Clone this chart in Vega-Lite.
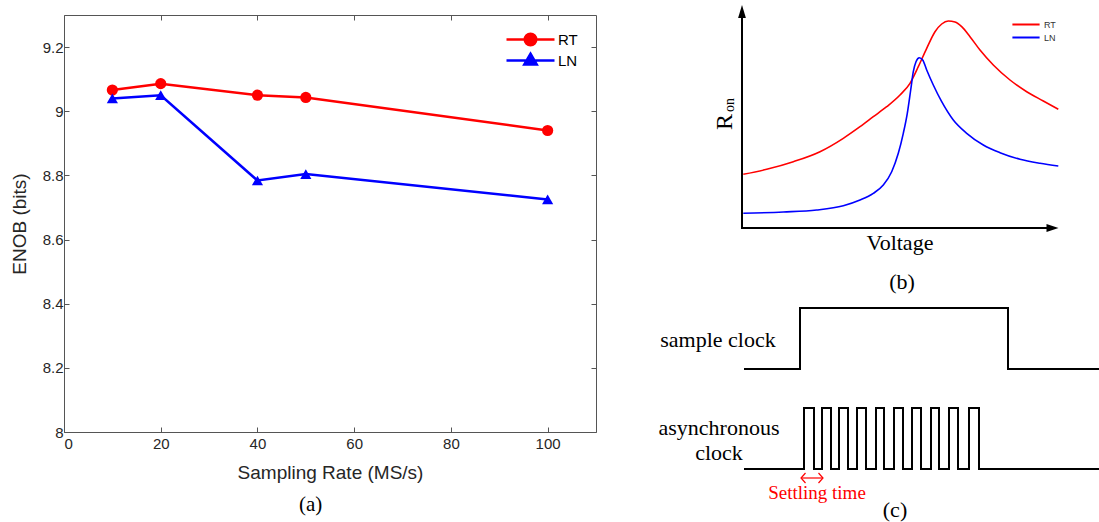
{
  "$schema": "https://vega.github.io/schema/vega-lite/v6.json",
  "background": "white",
  "padding": {"left": 10, "top": 5, "right": 0, "bottom": 0},
  "config": {"view": {"stroke": null}},
  "bounds": "flush",
  "spacing": 24,
  "resolve": {"scale": {"color": "independent"}, "legend": {"color": "independent"}},
  "hconcat": [
    {
      "width": 532,
      "height": 417,
      "layer": [
        {
          "data": {"values": [
            {"series": "RT", "rate": 10, "enob": 9.066},
            {"series": "RT", "rate": 20, "enob": 9.086},
            {"series": "RT", "rate": 40, "enob": 9.050},
            {"series": "RT", "rate": 50, "enob": 9.043},
            {"series": "RT", "rate": 100, "enob": 8.940},
            {"series": "LN", "rate": 10, "enob": 9.040},
            {"series": "LN", "rate": 20, "enob": 9.050},
            {"series": "LN", "rate": 40, "enob": 8.784},
            {"series": "LN", "rate": 50, "enob": 8.804},
            {"series": "LN", "rate": 100, "enob": 8.725}
          ]},
          "layer": [
            {
              "mark": {"type": "line", "strokeWidth": 2.5},
              "encoding": {
                "x": {"field": "rate", "type": "quantitative", "scale": {"domain": [0, 110], "nice": false},
                  "axis": {"orient": "bottom", "values": [0, 20, 40, 60, 80, 100], "title": "Sampling Rate (MS/s)", "grid": false,
                    "tickSize": -5, "tickColor": "#555", "domainColor": "#555", "labelPadding": 9,
                    "labelFont": "Liberation Sans", "labelFontSize": 15, "labelColor": "#262626",
                    "titleFont": "Liberation Sans", "titleFontSize": 19, "titleFontWeight": "normal", "titleColor": "#262626", "titlePadding": 12}},
                "y": {"field": "enob", "type": "quantitative", "scale": {"domain": [8, 9.3], "nice": false, "zero": false},
                  "axis": {"orient": "left", "values": [8, 8.2, 8.4, 8.6, 8.8, 9, 9.2], "format": "~g", "title": "ENOB (bits)", "grid": false,
                    "tickSize": -5, "tickColor": "#555", "domainColor": "#555", "labelPadding": 6,
                    "labelFont": "Liberation Sans", "labelFontSize": 15, "labelColor": "#262626",
                    "titleFont": "Liberation Sans", "titleFontSize": 19, "titleFontWeight": "normal", "titleColor": "#262626", "titlePadding": 13}},
                "color": {"field": "series", "type": "nominal", "scale": {"domain": ["RT", "LN"], "range": ["#ff0000", "#0000ff"]},
                  "legend": {"orient": "none", "legendX": 457, "legendY": 15, "title": null, "padding": 0,
                    "symbolType": "circle", "symbolSize": 256, "symbolStrokeWidth": 2.5, "labelOffset": 18, "rowPadding": -4,
                    "labelFont": "Liberation Sans", "labelFontSize": 15, "labelColor": "#000000",
                    "encode": {"symbols": {"update": {
                      "shape": {"signal": "datum.value === 'RT' ? 'M-3,0L3,0M0.72,0A0.72,0.72,0,1,1,-0.72,0A0.72,0.72,0,1,1,0.72,0Z' : 'M-3,0L3,0M0,-0.85L0.78,0.5L-0.78,0.5Z'"},
                      "fill": {"signal": "datum.value === 'RT' ? '#ff0000' : '#0000ff'"},
                      "stroke": {"signal": "datum.value === 'RT' ? '#ff0000' : '#0000ff'"},
                      "opacity": {"value": 1}
                    }}}}}
              }
            },
            {
              "mark": {"type": "point", "filled": true, "size": 125, "opacity": 1},
              "encoding": {
                "x": {"field": "rate", "type": "quantitative", "scale": {"domain": [0, 110], "nice": false},
                  "axis": {"orient": "top", "values": [0, 20, 40, 60, 80, 100], "labels": false, "title": null, "grid": false,
                    "tickSize": -5, "tickColor": "#555", "domainColor": "#555"}},
                "y": {"field": "enob", "type": "quantitative", "scale": {"domain": [8, 9.3], "nice": false, "zero": false},
                  "axis": {"orient": "right", "values": [8, 8.2, 8.4, 8.6, 8.8, 9, 9.2], "labels": false, "title": null, "grid": false,
                    "tickSize": -5, "tickColor": "#555", "domainColor": "#555"}},
                "color": {"field": "series", "type": "nominal", "scale": {"domain": ["RT", "LN"], "range": ["#ff0000", "#0000ff"]}, "legend": null},
                "shape": {"field": "series", "type": "nominal", "scale": {"domain": ["RT", "LN"], "range": ["circle", "triangle-up"]}, "legend": null}
              }
            }
          ]
        },
        {
          "data": {"values": [{}]},
          "mark": {"type": "text", "text": "(a)", "font": "Liberation Serif", "fontSize": 21, "color": "#000000"},
          "encoding": {
            "x": {"datum": 51, "scale": {"domain": [0, 110], "nice": false}, "axis": null},
            "y": {"datum": 7.772, "scale": {"domain": [8, 9.3], "nice": false, "zero": false}, "axis": null}
          }
        }
      ],
      "resolve": {"axis": {"x": "independent", "y": "independent"}}
    },
    {
      "bounds": "flush",
      "spacing": 0,
      "resolve": {"scale": {"color": "independent"}},
      "vconcat": [
        {
          "width": 479,
          "height": 280,
          "layer": [
            {
              "data": {"values": [
                {"curve": "RT", "v": 1.3, "r": 53.7}, {"curve": "RT", "v": 24.7, "r": 58.7}, {"curve": "RT", "v": 51.3, "r": 66.3},
                {"curve": "RT", "v": 78, "r": 76.3}, {"curve": "RT", "v": 101.3, "r": 89.7}, {"curve": "RT", "v": 118, "r": 101.3},
                {"curve": "RT", "v": 131.3, "r": 111.3}, {"curve": "RT", "v": 144.7, "r": 121.3}, {"curve": "RT", "v": 158, "r": 133},
                {"curve": "RT", "v": 168, "r": 144.7}, {"curve": "RT", "v": 176.3, "r": 161.3}, {"curve": "RT", "v": 184.7, "r": 179.7},
                {"curve": "RT", "v": 193, "r": 196.3}, {"curve": "RT", "v": 199.7, "r": 204}, {"curve": "RT", "v": 206.3, "r": 207},
                {"curve": "RT", "v": 213, "r": 206}, {"curve": "RT", "v": 219.7, "r": 201.3}, {"curve": "RT", "v": 228, "r": 191.3},
                {"curve": "RT", "v": 238, "r": 178}, {"curve": "RT", "v": 251.3, "r": 163}, {"curve": "RT", "v": 268, "r": 148},
                {"curve": "RT", "v": 284.7, "r": 136.3}, {"curve": "RT", "v": 301.3, "r": 127}, {"curve": "RT", "v": 316.3, "r": 118.7},
                {"curve": "LN", "v": 1.3, "r": 14.7}, {"curve": "LN", "v": 41.3, "r": 16}, {"curve": "LN", "v": 74.7, "r": 18},
                {"curve": "LN", "v": 101.3, "r": 22.3}, {"curve": "LN", "v": 118, "r": 28}, {"curve": "LN", "v": 131.3, "r": 34.7},
                {"curve": "LN", "v": 141.3, "r": 43}, {"curve": "LN", "v": 149.7, "r": 56.3}, {"curve": "LN", "v": 156.3, "r": 74.7},
                {"curve": "LN", "v": 161.3, "r": 94.7}, {"curve": "LN", "v": 165.3, "r": 114.7}, {"curve": "LN", "v": 168.7, "r": 138},
                {"curve": "LN", "v": 171.3, "r": 156.3}, {"curve": "LN", "v": 174, "r": 166.3}, {"curve": "LN", "v": 177.3, "r": 170.3},
                {"curve": "LN", "v": 180.7, "r": 168}, {"curve": "LN", "v": 184.7, "r": 158}, {"curve": "LN", "v": 191.3, "r": 143},
                {"curve": "LN", "v": 199.7, "r": 126.3}, {"curve": "LN", "v": 211.3, "r": 108}, {"curve": "LN", "v": 224.7, "r": 94.7},
                {"curve": "LN", "v": 241.3, "r": 83}, {"curve": "LN", "v": 258, "r": 75.3}, {"curve": "LN", "v": 278, "r": 68.7},
                {"curve": "LN", "v": 298, "r": 64.7}, {"curve": "LN", "v": 316.3, "r": 62}
              ]},
              "mark": {"type": "line", "strokeWidth": 1.6, "interpolate": "monotone"},
              "encoding": {
                "x": {"field": "v", "type": "quantitative", "scale": {"domain": [-122, 357], "nice": false, "zero": false}, "axis": null},
                "y": {"field": "r", "type": "quantitative", "scale": {"domain": [-67, 213], "nice": false, "zero": false}, "axis": null},
                "color": {"field": "curve", "type": "nominal", "scale": {"domain": ["RT", "LN"], "range": ["#ff0000", "#0000ff"]},
                  "legend": {"orient": "none", "legendX": 401, "legendY": 4.5, "title": null, "padding": 0,
                    "symbolType": "M-3.4,0L3.4,0", "symbolSize": 64, "symbolStrokeWidth": 2, "labelOffset": 13, "rowPadding": 3,
                    "labelFont": "Liberation Sans", "labelFontSize": 9, "labelColor": "#333333"}}
              }
            },
            {
              "data": {"values": [{}]},
              "mark": {"type": "rule", "color": "#000000", "strokeWidth": 2, "strokeCap": "square"},
              "encoding": {"x": {"datum": 0, "axis": null}, "y": {"datum": 0, "axis": null}, "y2": {"datum": 211}}
            },
            {
              "data": {"values": [{}]},
              "mark": {"type": "rule", "color": "#000000", "strokeWidth": 2, "strokeCap": "square"},
              "encoding": {"x": {"datum": 0, "axis": null}, "x2": {"datum": 305}, "y": {"datum": 0, "axis": null}}
            },
            {
              "data": {"values": [{}]},
              "mark": {"type": "point", "filled": true, "color": "#000000", "opacity": 1, "size": 169, "shape": "M0,-1L0.6,1L-0.6,1Z"},
              "encoding": {"x": {"datum": 0, "axis": null}, "y": {"datum": 216.5, "axis": null}}
            },
            {
              "data": {"values": [{}]},
              "mark": {"type": "point", "filled": true, "color": "#000000", "opacity": 1, "size": 144, "shape": "M1,0L-1,0.65L-1,-0.65Z"},
              "encoding": {"x": {"datum": 310.5, "axis": null}, "y": {"datum": 0, "axis": null}}
            },
            {
              "data": {"values": [{}]},
              "mark": {"type": "text", "text": "Voltage", "font": "Liberation Serif", "fontSize": 22, "color": "#000000"},
              "encoding": {"x": {"datum": 158, "axis": null}, "y": {"datum": -15, "axis": null}}
            },
            {
              "data": {"values": [{}]},
              "mark": {"type": "text", "text": "(b)", "font": "Liberation Serif", "fontSize": 22, "color": "#000000"},
              "encoding": {"x": {"datum": 160, "axis": null}, "y": {"datum": -54, "axis": null}}
            },
            {
              "data": {"values": [{}]},
              "mark": {"type": "text", "text": "R", "font": "Liberation Serif", "fontSize": 24, "angle": 270, "color": "#000000"},
              "encoding": {"x": {"datum": -17, "axis": null}, "y": {"datum": 106, "axis": null}}
            },
            {
              "data": {"values": [{}]},
              "mark": {"type": "text", "text": "on", "font": "Liberation Serif", "fontSize": 14, "angle": 270, "color": "#000000"},
              "encoding": {"x": {"datum": -12, "axis": null}, "y": {"datum": 123, "axis": null}}
            }
          ]
        },
        {
          "width": 479,
          "height": 227,
          "layer": [
            {
              "data": {"values": [
                {"signal": "sample", "i": 0, "t": 0, "lvl": 100}, {"signal": "sample", "i": 1, "t": 56, "lvl": 100},
                {"signal": "sample", "i": 2, "t": 56, "lvl": 161}, {"signal": "sample", "i": 3, "t": 264, "lvl": 161},
                {"signal": "sample", "i": 4, "t": 264, "lvl": 100}, {"signal": "sample", "i": 5, "t": 355, "lvl": 100},
                {"signal": "async", "i": 0, "t": 0, "lvl": 0},
                {"signal": "async", "i": 1, "t": 60, "lvl": 0}, {"signal": "async", "i": 2, "t": 60, "lvl": 61}, {"signal": "async", "i": 3, "t": 70, "lvl": 61}, {"signal": "async", "i": 4, "t": 70, "lvl": 0},
                {"signal": "async", "i": 5, "t": 78, "lvl": 0}, {"signal": "async", "i": 6, "t": 78, "lvl": 61}, {"signal": "async", "i": 7, "t": 87, "lvl": 61}, {"signal": "async", "i": 8, "t": 87, "lvl": 0},
                {"signal": "async", "i": 9, "t": 95, "lvl": 0}, {"signal": "async", "i": 10, "t": 95, "lvl": 61}, {"signal": "async", "i": 11, "t": 104, "lvl": 61}, {"signal": "async", "i": 12, "t": 104, "lvl": 0},
                {"signal": "async", "i": 13, "t": 113, "lvl": 0}, {"signal": "async", "i": 14, "t": 113, "lvl": 61}, {"signal": "async", "i": 15, "t": 122, "lvl": 61}, {"signal": "async", "i": 16, "t": 122, "lvl": 0},
                {"signal": "async", "i": 17, "t": 132, "lvl": 0}, {"signal": "async", "i": 18, "t": 132, "lvl": 61}, {"signal": "async", "i": 19, "t": 140, "lvl": 61}, {"signal": "async", "i": 20, "t": 140, "lvl": 0},
                {"signal": "async", "i": 21, "t": 150, "lvl": 0}, {"signal": "async", "i": 22, "t": 150, "lvl": 61}, {"signal": "async", "i": 23, "t": 159, "lvl": 61}, {"signal": "async", "i": 24, "t": 159, "lvl": 0},
                {"signal": "async", "i": 25, "t": 168, "lvl": 0}, {"signal": "async", "i": 26, "t": 168, "lvl": 61}, {"signal": "async", "i": 27, "t": 177, "lvl": 61}, {"signal": "async", "i": 28, "t": 177, "lvl": 0},
                {"signal": "async", "i": 29, "t": 187, "lvl": 0}, {"signal": "async", "i": 30, "t": 187, "lvl": 61}, {"signal": "async", "i": 31, "t": 195, "lvl": 61}, {"signal": "async", "i": 32, "t": 195, "lvl": 0},
                {"signal": "async", "i": 33, "t": 205, "lvl": 0}, {"signal": "async", "i": 34, "t": 205, "lvl": 61}, {"signal": "async", "i": 35, "t": 214, "lvl": 61}, {"signal": "async", "i": 36, "t": 214, "lvl": 0},
                {"signal": "async", "i": 37, "t": 225, "lvl": 0}, {"signal": "async", "i": 38, "t": 225, "lvl": 61}, {"signal": "async", "i": 39, "t": 235, "lvl": 61}, {"signal": "async", "i": 40, "t": 235, "lvl": 0},
                {"signal": "async", "i": 41, "t": 355, "lvl": 0}
              ]},
              "mark": {"type": "line", "color": "#000000", "strokeWidth": 2, "strokeJoin": "miter", "strokeCap": "butt"},
              "encoding": {
                "x": {"field": "t", "type": "quantitative", "scale": {"domain": [-124, 355], "nice": false, "zero": false}, "axis": null},
                "y": {"field": "lvl", "type": "quantitative", "scale": {"domain": [-53, 174], "nice": false, "zero": false}, "axis": null},
                "detail": {"field": "signal"},
                "order": {"field": "i", "type": "quantitative"}
              }
            },
            {
              "data": {"values": [{}]},
              "mark": {"type": "rule", "color": "#ff0000", "strokeWidth": 1.2},
              "encoding": {"x": {"datum": 57, "axis": null}, "x2": {"datum": 79}, "y": {"datum": -9, "axis": null}}
            },
            {
              "data": {"values": [{}]},
              "mark": {"type": "point", "filled": false, "color": "#ff0000", "strokeWidth": 1.2, "opacity": 1, "size": 25, "shape": "M1.8,-2L0,0L1.8,2"},
              "encoding": {"x": {"datum": 57, "axis": null}, "y": {"datum": -9, "axis": null}}
            },
            {
              "data": {"values": [{}]},
              "mark": {"type": "point", "filled": false, "color": "#ff0000", "strokeWidth": 1.2, "opacity": 1, "size": 25, "shape": "M-1.8,-2L0,0L-1.8,2"},
              "encoding": {"x": {"datum": 79, "axis": null}, "y": {"datum": -9, "axis": null}}
            },
            {
              "data": {"values": [{}]},
              "mark": {"type": "text", "text": "sample clock", "font": "Liberation Serif", "fontSize": 22, "color": "#000000"},
              "encoding": {"x": {"datum": -26, "axis": null}, "y": {"datum": 129, "axis": null}}
            },
            {
              "data": {"values": [{}]},
              "mark": {"type": "text", "text": "asynchronous", "font": "Liberation Serif", "fontSize": 22, "color": "#000000"},
              "encoding": {"x": {"datum": -25, "axis": null}, "y": {"datum": 41, "axis": null}}
            },
            {
              "data": {"values": [{}]},
              "mark": {"type": "text", "text": "clock", "font": "Liberation Serif", "fontSize": 22, "color": "#000000"},
              "encoding": {"x": {"datum": -25, "axis": null}, "y": {"datum": 16, "axis": null}}
            },
            {
              "data": {"values": [{}]},
              "mark": {"type": "text", "text": "Settling time", "font": "Liberation Serif", "fontSize": 19, "color": "#ff0000"},
              "encoding": {"x": {"datum": 73, "axis": null}, "y": {"datum": -24, "axis": null}}
            },
            {
              "data": {"values": [{}]},
              "mark": {"type": "text", "text": "(c)", "font": "Liberation Serif", "fontSize": 22, "color": "#000000"},
              "encoding": {"x": {"datum": 151, "axis": null}, "y": {"datum": -41, "axis": null}}
            }
          ]
        }
      ]
    }
  ]
}
